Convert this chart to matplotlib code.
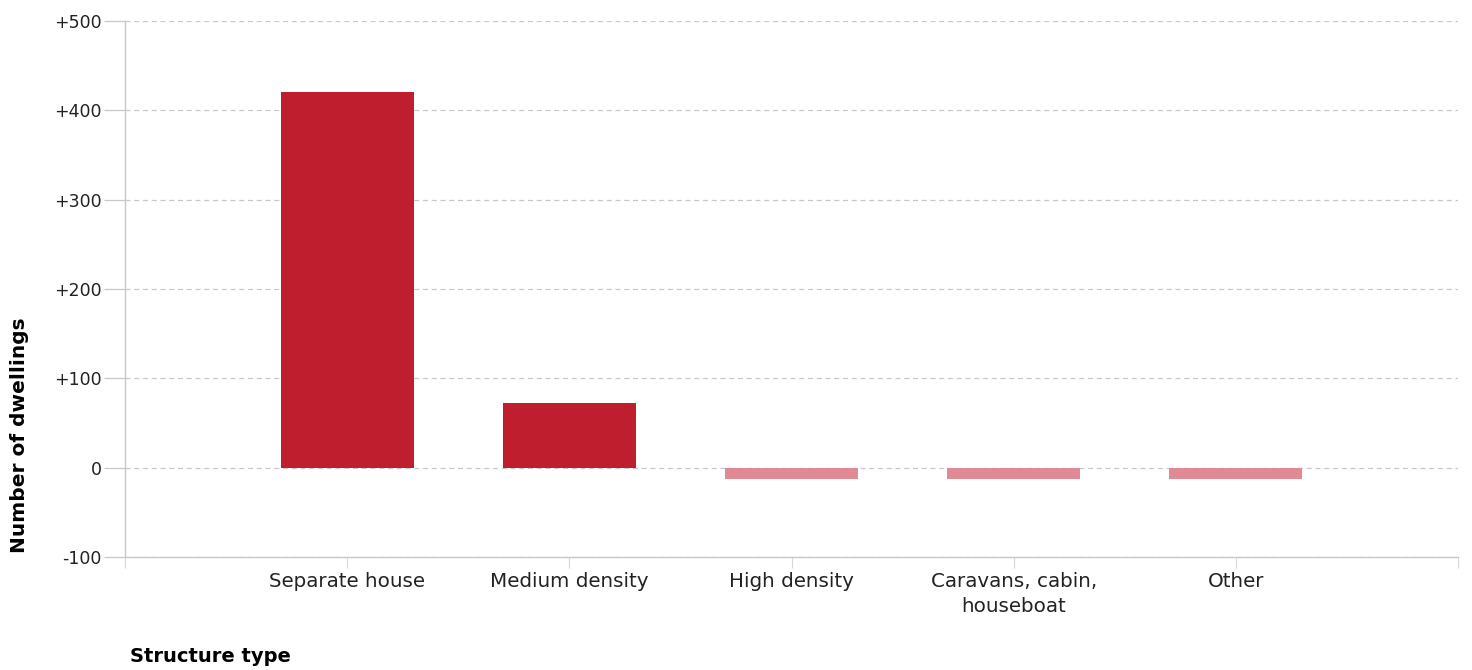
import matplotlib
matplotlib.use("Agg")
import matplotlib.pyplot as plt

categories = ["Separate house", "Medium density", "High density", "Caravans, cabin,\nhouseboat", "Other"]
values = [420, 72, -13, -13, -13]
y_ticks = [-100, 0, 100, 200, 300, 400, 500]
y_tick_labels = ["-100", "0", "+100", "+200", "+300", "+400", "+500"]

pos_color = "#be1e2d"
neg_color = "#e08a96"

plt.rcParams['font.family'] = ['DejaVu Sans']

fig = plt.figure(figsize=(14.72, 6.70), dpi=100)
ax = fig.add_axes([125/1472, 1-557/670, (1458-125)/1472, (557-21)/670])

x = list(range(len(categories)))
colors = [pos_color if v >= 0 else neg_color for v in values]
ax.bar(x, values, width=0.6, color=colors, zorder=3)

ax.set_xlim(-1, len(categories))
ax.set_ylim(-100, 500)
ax.set_yticks(y_ticks)
ax.set_yticklabels(y_tick_labels, fontsize=12.5, color="#222222")
ax.yaxis.grid(True, linestyle=(0, (4, 3)), color="#c8c8c8", linewidth=0.9, zorder=0)
ax.tick_params(axis='y', length=15, color="#c8c8c8", width=0.9, pad=2)

ax.set_xticks(x)
ax.set_xticklabels(categories, fontsize=14.3, color="#222222", linespacing=1.4)
ax.set_xticks([-1, len(categories)], minor=True)
ax.tick_params(axis='x', which='both', length=8, color="#d8d8d8", width=0.8, pad=3)

for s in ["top", "right"]:
    ax.spines[s].set_visible(False)
for s in ["left", "bottom"]:
    ax.spines[s].set_color("#c8c8c8")
    ax.spines[s].set_linewidth(1.0)

fig.text(20/1472, 1-435/670, "Number of dwellings", rotation=90, fontsize=14.5,
         fontweight='bold', ha='center', va='center')
fig.text(130/1472, 1-657/670, "Structure type", fontsize=14, fontweight='bold',
         ha='left', va='center')

fig.savefig("out.png", dpi=100)
